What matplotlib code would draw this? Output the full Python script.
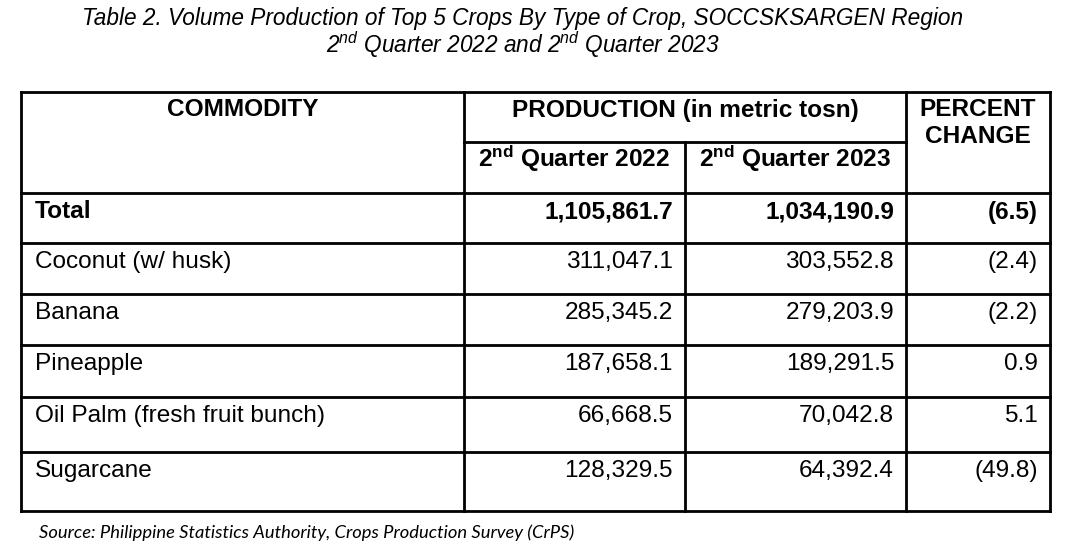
import matplotlib.pyplot as plt

plt.rcParams["mathtext.fontset"] = "custom"
plt.rcParams["mathtext.rm"] = "Liberation Sans"
plt.rcParams["mathtext.bf"] = "Liberation Sans:bold"
plt.rcParams["mathtext.it"] = "Liberation Sans:italic"

# table data
commodities = ["Total", "Coconut (w/ husk)", "Banana", "Pineapple",
               "Oil Palm (fresh fruit bunch)", "Sugarcane"]
q2_2022 = [1105861.7, 311047.1, 285345.2, 187658.1, 66668.5, 128329.5]
q2_2023 = [1034190.9, 303552.8, 279203.9, 189291.5, 70042.8, 64392.4]
pct_change = [-6.5, -2.4, -2.2, 0.9, 5.1, -49.8]

title_1 = "Table 2. Volume Production of Top 5 Crops By Type of Crop, SOCCSKSARGEN Region"
title_2 = r"2$^{\mathit{nd}}$ Quarter 2022 and 2$^{\mathit{nd}}$ Quarter 2023"
source = "Source: Philippine Statistics Authority, Crops Production Survey (CrPS)"


def fmt_num(v):
    return f"{v:,.1f}"


def fmt_pct(v):
    return f"({abs(v):.1f})" if v < 0 else f"{v:.1f}"


# layout in pixel coords
W, H = 1068, 552
xs = [21, 464, 685, 906, 1050]
y_top, y_sub, y_head = 92, 142, 193
row_edges = [193, 243, 294, 345, 397, 452, 511]

fig = plt.figure(figsize=(W / 100, H / 100), dpi=100)
ax = fig.add_axes([0, 0, 1, 1])
ax.set_xlim(0, W)
ax.set_ylim(H, 0)
ax.axis("off")

lw = 2.0
kw = dict(color="black", lw=lw, solid_capstyle="projecting")
# outer box + horizontal rules
for y in [y_top] + row_edges:
    ax.plot([xs[0], xs[-1]], [y, y], **kw)
ax.plot([xs[1], xs[3]], [y_sub, y_sub], **kw)
# vertical rules
for x in [xs[0], xs[1], xs[3], xs[4]]:
    ax.plot([x, x], [y_top, row_edges[-1]], **kw)
ax.plot([xs[2], xs[2]], [y_sub, row_edges[-1]], **kw)

fam = "Liberation Sans"
fs = 17.6
hfs = 17.6

# headers
ax.text((xs[0] + xs[1]) / 2, 110, "COMMODITY", ha="center", va="center",
        fontsize=hfs, fontweight="bold", family=fam)
ax.text((xs[1] + xs[3]) / 2, 110, "PRODUCTION (in metric tosn)", ha="center",
        va="center", fontsize=hfs, fontweight="bold", family=fam)
ax.text((xs[1] + xs[2]) / 2, 159, r"2$^{\mathbf{nd}}$ Quarter 2022", ha="center",
        va="center", fontsize=hfs, fontweight="bold", family=fam)
ax.text((xs[2] + xs[3]) / 2, 159, r"2$^{\mathbf{nd}}$ Quarter 2023", ha="center",
        va="center", fontsize=hfs, fontweight="bold", family=fam)
ax.text((xs[3] + xs[4]) / 2, 123, "PERCENT\nCHANGE", ha="center", va="center",
        fontsize=hfs, fontweight="bold", family=fam, linespacing=1.17)

# body rows
for i, name in enumerate(commodities):
    yc = row_edges[i] + 19
    weight = "bold" if i == 0 else "normal"
    ax.text(35, yc, name, ha="left", va="center", fontsize=fs,
            fontweight=weight, family=fam)
    ax.text(xs[2] - 12, yc, fmt_num(q2_2022[i]), ha="right", va="center",
            fontsize=fs, fontweight=weight, family=fam)
    ax.text(xs[3] - 12, yc, fmt_num(q2_2023[i]), ha="right", va="center",
            fontsize=fs, fontweight=weight, family=fam)
    ax.text(xs[4] - 12, yc, fmt_pct(pct_change[i]), ha="right", va="center",
            fontsize=fs, fontweight=weight, family=fam)

# title
ax.text(523, 18, title_1, ha="center", va="center", fontsize=16.3,
        style="italic", family=fam)
ax.text(523, 45, title_2, ha="center", va="center", fontsize=16.3,
        style="italic", family=fam)

# source
ax.text(39, 533, source, ha="left", va="center", fontsize=13.2,
        style="italic", family="Lato")

fig.savefig("out.png", dpi=100)
